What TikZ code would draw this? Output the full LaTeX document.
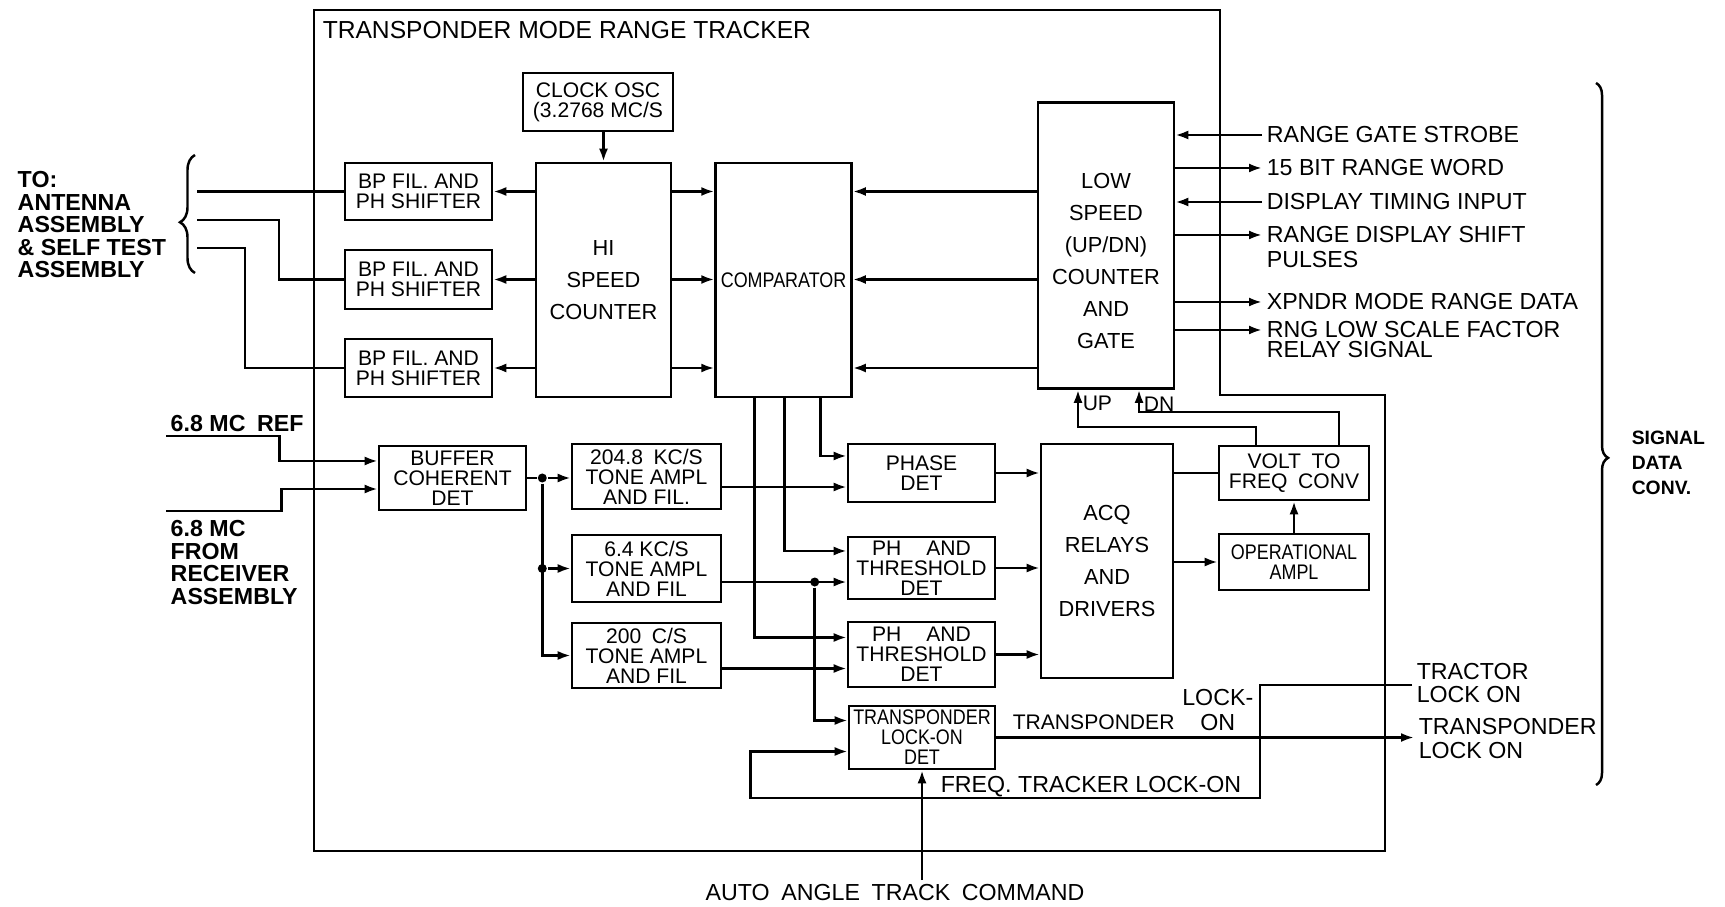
\documentclass[tikz,border=0pt]{standalone}
\usepackage{fontspec}
\setmainfont{Liberation Sans}
\newfontfamily\narrowfont{Liberation Sans}[FakeStretch=0.85]
\usetikzlibrary{positioning, arrows.meta, decorations.pathreplacing}
\lineskiplimit=-5pt

\begin{document}
\begin{tikzpicture}[
        x=0.01cm, y=-0.01cm,
        line width=0.7pt,
        box/.style={rectangle, draw, inner sep=0pt, align=center, font=\fontsize{6}{5.7}\selectfont},
        tallbox/.style={box, font=\fontsize{6.2}{9.1}\selectfont},
        narrow/.style={font=\narrowfont\fontsize{6}{5.7}\selectfont},
        lbl/.style={inner sep=1pt, align=left, font=\fontsize{6.6}{7}\selectfont},
        side/.style={inner sep=1pt, align=left, font=\bfseries\fontsize{6.6}{6.4}\selectfont},
        arrow/.style={-{Latex[length=1.3mm, width=0.9mm]}},
        dot/.style={circle, fill, inner sep=0pt, minimum size=0.09cm},
    ]
    \useasboundingbox (0,0) rectangle (1725,907);

    % Tracker outline
    \draw (314,10) -- (1220,10) -- (1220,395) -- (1385,395) -- (1385,851) -- (314,851) -- cycle;
    \node[lbl, anchor=west, font=\fontsize{7}{8}\selectfont] (ttl) at (318,30) {TRANSPONDER MODE RANGE TRACKER};

    % Counters
    \node[box, minimum width=1.5cm, minimum height=0.58cm] (clk) at (598,102) {CLOCK OSC\\(3.2768 MC/S};
    \node[tallbox, minimum width=1.35cm, minimum height=2.34cm] (hsc) at (603.5,280) {HI\\SPEED\\COUNTER};
    \node[tallbox, font=\narrowfont\fontsize{6}{9}\selectfont, minimum width=1.36cm, minimum height=2.34cm, right=0.42cm of hsc] (cmp) {COMPARATOR};
    \node[tallbox, minimum width=1.36cm, minimum height=2.86cm] (lsc) at (1106,245.5) {};
    \node[align=center, font=\fontsize{6.2}{9.1}\selectfont] (lsct) at (1106,261) {LOW\\SPEED\\(UP/DN)\\COUNTER\\AND\\GATE};
    \draw[arrow] (hsc.north |- clk.south) -- (hsc.north);

    % Phase shifters
    \node[box, minimum width=1.47cm, minimum height=0.57cm] (bp1) at (418.5,191.5) {BP FIL. AND\\PH SHIFTER};
    \node[box, minimum width=1.47cm, minimum height=0.59cm] (bp2) at (418.5,279.5) {BP FIL. AND\\PH SHIFTER};
    \node[box, minimum width=1.47cm, minimum height=0.58cm] (bp3) at (418.5,368) {BP FIL. AND\\PH SHIFTER};
    \foreach \b in {bp1,bp2,bp3} {
        \draw[arrow] (hsc.west |- \b.east) -- (\b.east);
        \draw[arrow] (hsc.east |- \b.east) -- (cmp.west |- \b.east);
        \draw[arrow] (lsc.west |- \b.east) -- (cmp.east |- \b.east);
    }

    % Antenna side
    \node[side, anchor=west] (ant) at (13,225) {TO:\\ANTENNA\\ASSEMBLY\\\& SELF TEST\\ASSEMBLY};
    \draw[decorate, decoration={brace, amplitude=0.15cm, aspect=0.43}] (195,273) -- (195,155);
    \coordinate (ant1) at (197,191);
    \coordinate (ant2) at (197,220);
    \coordinate (ant3) at (197,248);
    \draw (bp1.west) -- (ant1 |- bp1.west);
    \draw (bp2.west) -| ([xshift=0.82cm]ant2) -- (ant2);
    \draw (bp3.west) -| ([xshift=0.48cm]ant3) -- (ant3);

    % Buffer and tone filters
    \node[box, minimum width=1.47cm, minimum height=0.64cm] (buf) at (452.5,478) {BUFFER\\COHERENT\\DET};
    \coordinate (buf-a) at ([yshift=0.17cm]buf.west);
    \coordinate (buf-b) at ([yshift=-0.11cm]buf.west);
    \node[side, anchor=south west] (mcref) at (166,436) {6.8 MC\enspace REF};
    \node[side, anchor=north west] (mcrcv) at (166,516) {6.8 MC\\FROM\\RECEIVER\\ASSEMBLY};
    \draw[arrow] (mcref.south west) -| ([xshift=-0.98cm]buf-a) -- (buf-a);
    \draw[arrow] ([yshift=0.05cm]mcrcv.north west) -| ([xshift=-0.96cm]buf-b) -- (buf-b);

    \node[box, minimum width=1.49cm, minimum height=0.65cm] (t1) at (646.5,476.5) {204.8\enspace KC/S\\TONE AMPL\\AND FIL.};
    \node[box, minimum width=1.49cm, minimum height=0.67cm] (t2) at (646.5,568.5) {6.4 KC/S\\TONE AMPL\\AND FIL};
    \node[box, minimum width=1.49cm, minimum height=0.65cm] (t3) at (646.5,655.5) {200\enspace C/S\\TONE AMPL\\AND FIL};
    \path (buf.east) ++(0.15cm,0) node[dot] (j1) {};
    \node[dot] (j1b) at (j1 |- t2.west) {};
    \draw[arrow] (buf.east) -- (j1) -- (j1 -| t1.west);
    \draw[arrow] (j1b) -- (t2.west);
    \draw[arrow] (j1) -- (j1 |- t3.west) -- (t3.west);

    % Detectors
    \node[box, minimum width=1.47cm, minimum height=0.58cm] (phd) at (921.5,473) {PHASE\\DET};
    \node[box, minimum width=1.47cm, minimum height=0.62cm] (pt1) at (921.5,568) {PH\hspace{0.25cm}AND\\THRESHOLD\\DET};
    \node[box, minimum width=1.47cm, minimum height=0.65cm] (pt2) at (921.5,654.5) {PH\hspace{0.25cm}AND\\THRESHOLD\\DET};
    \node[box, narrow, minimum width=1.46cm, minimum height=0.63cm] (tld) at (922,737.5) {TRANSPONDER\\LOCK-ON\\DET};
    \foreach \n in {phd,pt1,pt2,tld} {
        \coordinate (\n-a) at ([yshift=0.17cm]\n.west);
        \coordinate (\n-b) at ([yshift=-0.14cm]\n.west);
    }
    \draw[arrow] ([xshift=0.37cm]cmp.south) |- (phd-a);
    \draw[arrow] ([xshift=0.01cm]cmp.south) |- (pt1-a);
    \draw[arrow] ([xshift=-0.29cm]cmp.south) |- (pt2-a);
    \draw[arrow] (t1.east |- phd-b) -- (phd-b);
    \draw[arrow] (t2.east |- pt1-b) -- (pt1-b);
    \draw[arrow] (t3.east |- pt2-b) -- (pt2-b);
    \path (pt1-b) ++(-0.32cm,0) node[dot] (j2) {};
    \draw[arrow] (j2) |- (tld-a);

    % Acquisition
    \node[tallbox, minimum width=1.32cm, minimum height=2.34cm] (acq) at (1107,561) {ACQ\\RELAYS\\AND\\DRIVERS};
    \node[box, minimum width=1.5cm, minimum height=0.54cm] (vfc) at (1294,473) {VOLT\enspace TO\\FREQ\enspace CONV};
    \node[box, narrow, minimum width=1.5cm, minimum height=0.56cm] (opa) at (1294,562) {OPERATIONAL\\AMPL};
    \foreach \n in {phd,pt1,pt2}
        \draw[arrow] (\n.east) -- (\n.east -| acq.west);
    \draw (acq.east |- vfc.west) -- (vfc.west);
    \draw[arrow] (acq.east |- opa.west) -- (opa.west);
    \draw[arrow] (opa.north) -- (vfc.south);
    \coordinate (up) at ([xshift=-0.28cm]lsc.south);
    \coordinate (dn) at ([xshift=0.33cm]lsc.south);
    \draw[arrow] ([xshift=-0.38cm]vfc.north) |- ([yshift=-0.37cm]up) -- (up);
    \draw[arrow] ([xshift=0.45cm]vfc.north) |- ([yshift=-0.22cm]dn) -- (dn);
    \node[lbl, anchor=west, font=\fontsize{6}{7}\selectfont] (uplb) at ([yshift=-0.14cm]up) {UP};
    \node[lbl, anchor=west, font=\fontsize{6}{7}\selectfont] (dnlb) at ([yshift=-0.14cm]dn) {DN};

    % Signal data side
    \node[lbl, anchor=west] (rgs) at (1262,135) {RANGE GATE STROBE};
    \node[lbl, anchor=west] (brw) at (1262,168) {15 BIT RANGE WORD};
    \node[lbl, anchor=west] (dti) at (1262,202) {DISPLAY TIMING INPUT};
    \node[lbl, anchor=west] (rds) at (1262,235) {RANGE DISPLAY SHIFT};
    \node[lbl, anchor=west] (rds2) at ([yshift=-0.25cm]rds.west) {PULSES};
    \node[lbl, anchor=west] (xrd) at (1262,302) {XPNDR MODE RANGE DATA};
    \node[lbl, anchor=west] (rlf) at (1262,330) {RNG LOW SCALE FACTOR};
    \node[lbl, anchor=west] (rlf2) at ([yshift=-0.2cm]rlf.west) {RELAY SIGNAL};
    \foreach \s in {rgs,dti}
        \draw[arrow] (\s.west) -- (\s.west -| lsc.east);
    \foreach \s in {brw,rds,xrd,rlf}
        \draw[arrow] (lsc.east |- \s.west) -- (\s.west);

    % Lock-on
    \node[lbl, anchor=west] (trc) at (1412,672) {TRACTOR};
    \node[lbl, anchor=west] (trc2) at ([yshift=-0.22cm]trc.west) {LOCK ON};
    \node[lbl, anchor=west] (tlo) at (1414,727) {TRANSPONDER};
    \node[lbl, anchor=west] (tlo2) at ([yshift=-0.23cm]tlo.west) {LOCK ON};
    \node[lbl, anchor=east, align=center] (lko) at (1258,710) {LOCK-\\ON};
    \node[lbl, anchor=west, font=\fontsize{6}{7}\selectfont] (tlbl) at (1008,722) {TRANSPONDER};
    \node[lbl, anchor=west] (ftl) at (936,787) {FREQ. TRACKER LOCK-ON};
    \coordinate (lk) at (1260,798);
    \draw[arrow] (tld.east) -- (tld.east -| tlo.west);
    \draw[arrow] (trc.south west) -| (lk) -| ([xshift=-0.97cm]tld-b) -- (tld-b);
    \node[lbl] (aatc) at (895,893) {AUTO\enspace ANGLE\enspace TRACK\enspace COMMAND};
    \draw[arrow] (aatc.north -| tld.south) -- (tld.south);

    % Signal data converter
    \draw[decorate, decoration={brace, amplitude=0.12cm, aspect=0.534}] (1596,83) -- (1596,785);
    \node[side, anchor=west, font=\bfseries\fontsize{5.5}{7.1}\selectfont] (sdc) at (1627,463) {SIGNAL\\DATA\\CONV.};

\end{tikzpicture}
\end{document}
